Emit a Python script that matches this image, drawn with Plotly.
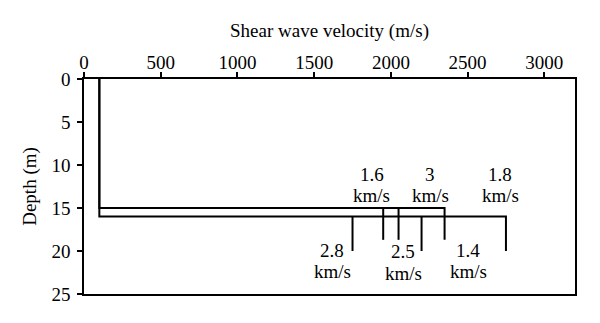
import plotly.graph_objects as go

# Data
base_velocity = 100            # m/s, surface layer
upper_depth = 15               # m
lower_depth = 16               # m
upper_marks = [1950, 2050, 2350]   # m/s, verticals from upper line
upper_mark_end = 18.7
lower_marks = [1750, 2200, 2750]   # m/s, verticals from lower line
lower_mark_end = 20
upper_labels = ["1.6", "3", "1.8"]
upper_label_x = [1876, 2257, 2713]
lower_labels = ["2.8", "2.5", "1.4"]
lower_label_x = [1617, 2080, 2504]
x_ticks = [0, 500, 1000, 1500, 2000, 2500, 3000]
y_ticks = [0, 5, 10, 15, 20, 25]

FONT = "Liberation Serif"
TF = dict(family=FONT, size=19, color="black")
fig = go.Figure()

# main profile lines
fig.add_trace(go.Scatter(
    x=[base_velocity, base_velocity, max(upper_marks), max(upper_marks)],
    y=[0, upper_depth, upper_depth, upper_mark_end],
    mode="lines", line=dict(color="black", width=2), showlegend=False))
fig.add_trace(go.Scatter(
    x=[base_velocity, base_velocity, max(lower_marks), max(lower_marks)],
    y=[0, lower_depth, lower_depth, lower_mark_end],
    mode="lines", line=dict(color="black", width=2), showlegend=False))

# vertical markers
for v in upper_marks[:-1]:
    fig.add_trace(go.Scatter(x=[v, v], y=[upper_depth, upper_mark_end], mode="lines",
                             line=dict(color="black", width=2), showlegend=False))
for v in lower_marks[:-1]:
    fig.add_trace(go.Scatter(x=[v, v], y=[lower_depth, lower_mark_end], mode="lines",
                             line=dict(color="black", width=2), showlegend=False))

annotations = []
for lab, xv in zip(upper_labels, upper_label_x):
    annotations.append(dict(x=xv, y=11.1, text=lab, showarrow=False, xref="x", yref="y", font=TF))
    annotations.append(dict(x=xv, y=13.6, text="km/s", showarrow=False, xref="x", yref="y", font=TF))
for lab, xv in zip(lower_labels, lower_label_x):
    dy = 0.2 if lab == "2.5" else 0.0
    annotations.append(dict(x=xv, y=19.9 + dy, text=lab, showarrow=False, xref="x", yref="y", font=TF))
    annotations.append(dict(x=xv, y=22.4 + dy, text="km/s", showarrow=False, xref="x", yref="y", font=TF))

fig.update_layout(
    width=600, height=323,
    margin=dict(l=84, r=25, t=79, b=29),
    paper_bgcolor="white", plot_bgcolor="white",
    font=TF,
    annotations=annotations,
    xaxis=dict(side="top", range=[0, 3200], tickvals=x_ticks, tickfont=TF,
               ticks="outside", ticklen=5, tickwidth=1.5, tickcolor="black",
               ticklabelstandoff=-4,
               showline=True, linecolor="black", linewidth=1.5, mirror=True,
               showgrid=False, zeroline=False,
               title=dict(text="Shear wave velocity (m/s)", standoff=9, font=TF)),
    yaxis=dict(range=[25, 0], tickvals=y_ticks, tickfont=TF,
               ticks="outside", ticklen=5, tickwidth=1.5, tickcolor="black",
               ticklabelstandoff=3,
               showline=True, linecolor="black", linewidth=1.5, mirror=True,
               showgrid=False, zeroline=False,
               title=dict(text="Depth (m)", standoff=10, font=TF)),
)

fig.write_html("out.html")
